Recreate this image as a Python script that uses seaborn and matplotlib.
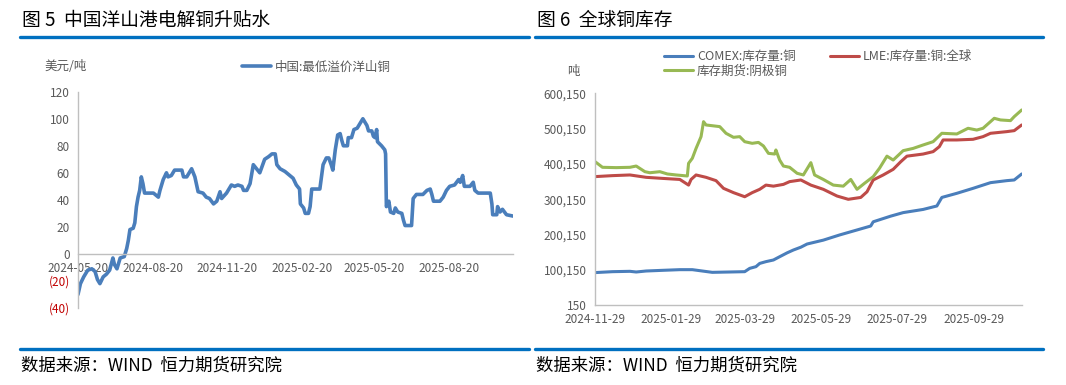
import pandas as pd
import numpy as np
import seaborn as sns
import matplotlib.pyplot as plt
import matplotlib.dates as mdates
from matplotlib.lines import Line2D
from matplotlib.ticker import FuncFormatter

sns.set_theme(style="white")
plt.rcParams['font.family'] = ['Noto Sans CJK SC', 'DejaVu Sans']
plt.rcParams['axes.unicode_minus'] = False

# 图5 中国洋山港电解铜升贴水 (美元/吨)
yangshan_dates = [
    "2024-05-20", "2024-05-23", "2024-05-27", "2024-06-01", "2024-06-06", "2024-06-10", "2024-06-13", "2024-06-16",
    "2024-06-20", "2024-06-24", "2024-06-28",
    "2024-07-02", "2024-07-04", "2024-07-07", "2024-07-11", "2024-07-16", "2024-07-19", "2024-07-21", "2024-07-23",
    "2024-07-27", "2024-07-29", "2024-07-31",
    "2024-08-02", "2024-08-04", "2024-08-06", "2024-08-08", "2024-08-10", "2024-08-21", "2024-08-27", "2024-08-29",
    "2024-09-02", "2024-09-06", "2024-09-08", "2024-09-12", "2024-09-16", "2024-09-25", "2024-09-27",
    "2024-10-01", "2024-10-07", "2024-10-11", "2024-10-15", "2024-10-21", "2024-10-25", "2024-10-29",
    "2024-11-03", "2024-11-07", "2024-11-11", "2024-11-13", "2024-11-19", "2024-11-25", "2024-11-29",
    "2024-12-03", "2024-12-08", "2024-12-10", "2024-12-14", "2024-12-18", "2024-12-22", "2024-12-26", "2024-12-30",
    "2025-01-05", "2025-01-10", "2025-01-14", "2025-01-18", "2025-01-20", "2025-01-24", "2025-01-30",
    "2025-02-05", "2025-02-09", "2025-02-13", "2025-02-17", "2025-02-18", "2025-02-22", "2025-02-24", "2025-02-28",
    "2025-03-02", "2025-03-04", "2025-03-14", "2025-03-16", "2025-03-18", "2025-03-22", "2025-03-25", "2025-03-28",
    "2025-03-30",
    "2025-04-02", "2025-04-05", "2025-04-08", "2025-04-10", "2025-04-12", "2025-04-17", "2025-04-18", "2025-04-22",
    "2025-04-25", "2025-04-29",
    "2025-05-03", "2025-05-06", "2025-05-09", "2025-05-11", "2025-05-13", "2025-05-17", "2025-05-19", "2025-05-21",
    "2025-05-23", "2025-05-24", "2025-05-29",
    "2025-06-02", "2025-06-03", "2025-06-04", "2025-06-07", "2025-06-09", "2025-06-13", "2025-06-15", "2025-06-18",
    "2025-06-23", "2025-06-25", "2025-06-27",
    "2025-07-05", "2025-07-07", "2025-07-11", "2025-07-19", "2025-07-24", "2025-07-28", "2025-07-30",
    "2025-08-01", "2025-08-09", "2025-08-13", "2025-08-17", "2025-08-21", "2025-08-27",
    "2025-09-01", "2025-09-03", "2025-09-06", "2025-09-08", "2025-09-15", "2025-09-19", "2025-09-21", "2025-09-25",
    "2025-10-10", "2025-10-12", "2025-10-13", "2025-10-18", "2025-10-19", "2025-10-22", "2025-10-25", "2025-10-30",
    "2025-11-07"]
yangshan_premium = [
    -30, -22, -17, -12, -11, -13, -19, -22, -17, -15, -12,
    -3, -8, -11, -3, -2, 4, 10, 18, 19, 23, 35,
    42, 47, 57, 52, 45, 45, 42, 47,
    55, 60, 57, 58, 62, 62, 57,
    57, 63, 57, 46, 45, 42, 41,
    37, 39, 46, 41, 45, 51, 50,
    51, 50, 47, 47, 52, 66, 63, 60,
    70, 72, 74, 74, 66, 63, 61,
    58, 56, 51, 48, 37, 34, 30, 30,
    35, 48, 48, 57, 66, 71, 71, 66, 62,
    77, 88, 89, 84, 80, 80, 86, 86, 92, 93,
    97, 100, 97, 95, 91, 91, 87, 86, 92, 83, 80,
    77, 74, 35, 39, 31, 30, 34, 31, 30, 25, 21,
    21, 41, 44, 44, 47, 48, 44,
    39, 39, 42, 47, 50, 51,
    55, 53, 58, 50, 50, 53, 47, 45,
    45, 37, 29, 29, 35, 31, 33, 29, 28]
left_xticks = ["2024-05-20", "2024-08-20", "2024-11-20", "2025-02-20", "2025-05-20", "2025-08-20"]
left_yticks = [-40, -20, 0, 20, 40, 60, 80, 100, 120]

# 图6 全球铜库存 (吨)
comex_dates = [
    "2024-11-29", "2024-12-13", "2024-12-27", "2025-01-01", "2025-01-09", "2025-01-22", "2025-02-05", "2025-02-15",
    "2025-02-23", "2025-03-03", "2025-03-17", "2025-03-29", "2025-04-02", "2025-04-07", "2025-04-10", "2025-04-15",
    "2025-04-21", "2025-04-26", "2025-05-02", "2025-05-07", "2025-05-13", "2025-05-18", "2025-05-31", "2025-06-13",
    "2025-06-27", "2025-07-08", "2025-07-10", "2025-07-24", "2025-08-03", "2025-08-19", "2025-08-30", "2025-09-03",
    "2025-09-15", "2025-09-28", "2025-10-12", "2025-10-25", "2025-10-31", "2025-11-06"]
comex_stock = [
    92000, 94600, 95600, 93700, 96500, 98400, 100300, 100300,
    96500, 92700, 93700, 94600, 104000, 108800, 118000, 123000,
    127700, 137000, 148000, 156000, 164000, 173000, 184000, 198600,
    212800, 224000, 236000, 252000, 262000, 271000, 280800, 305000,
    316700, 330800, 346900, 352600, 354500, 371500]

lme_dates = [
    "2024-11-29", "2024-12-13", "2024-12-27", "2025-01-09", "2025-01-22", "2025-02-05", "2025-02-12", "2025-02-14",
    "2025-02-18", "2025-02-26", "2025-03-06", "2025-03-12", "2025-03-20", "2025-03-29", "2025-04-04", "2025-04-10",
    "2025-04-15", "2025-04-21", "2025-04-29", "2025-05-04", "2025-05-13", "2025-05-21", "2025-05-31", "2025-06-11",
    "2025-06-20", "2025-06-30", "2025-07-05", "2025-07-10", "2025-07-18", "2025-07-26", "2025-08-01", "2025-08-06",
    "2025-08-19", "2025-08-27", "2025-09-01", "2025-09-04", "2025-09-15", "2025-09-28", "2025-10-06", "2025-10-12",
    "2025-10-25", "2025-10-31", "2025-11-06"]
lme_stock = [
    364000, 366800, 368700, 362000, 359000, 356000, 340000, 356000,
    368700, 362000, 352600, 330800, 318600, 307000, 318600, 328000,
    340000, 337000, 342000, 349800, 354500, 340000, 328000, 309000,
    299700, 305000, 321000, 354500, 368700, 384700, 406000, 422000,
    428000, 434800, 449000, 467900, 467900, 469800, 477300, 486800,
    491500, 494300, 510400]

cathode_dates = [
    "2024-11-29", "2024-12-05", "2024-12-16", "2024-12-27", "2025-01-01", "2025-01-08", "2025-01-12", "2025-01-20",
    "2025-01-26", "2025-02-02", "2025-02-11", "2025-02-12", "2025-02-15", "2025-02-18", "2025-02-22", "2025-02-24",
    "2025-02-26", "2025-03-09", "2025-03-14", "2025-03-20", "2025-03-25", "2025-03-29", "2025-04-04", "2025-04-09",
    "2025-04-13", "2025-04-17", "2025-04-22", "2025-04-23", "2025-04-26", "2025-04-29", "2025-05-04", "2025-05-10",
    "2025-05-15", "2025-05-21", "2025-05-24", "2025-05-31", "2025-06-08", "2025-06-16", "2025-06-22", "2025-06-27",
    "2025-07-03", "2025-07-10", "2025-07-15", "2025-07-21", "2025-07-26", "2025-08-03", "2025-08-11", "2025-08-19",
    "2025-08-27", "2025-09-03", "2025-09-15", "2025-09-24", "2025-10-01", "2025-10-06", "2025-10-15", "2025-10-20",
    "2025-10-28", "2025-10-31", "2025-11-06"]
cathode_stock = [
    406500, 390400, 389500, 390400, 394000, 378000, 375000, 378000,
    371500, 368700, 365800, 401700, 415900, 444000, 477300, 519800,
    510400, 505700, 486800, 475400, 477300, 463000, 458400, 461000,
    450900, 430000, 428000, 439500, 411000, 394000, 390400, 373400,
    368700, 403600, 368700, 356000, 340000, 337000, 356000, 328000,
    345000, 364000, 387600, 422000, 411000, 437600, 444000, 453700,
    463000, 486800, 484900, 501000, 496000, 501000, 529300, 524600,
    522700, 534000, 552900]
right_xticks = ["2024-11-29", "2025-01-29", "2025-03-29", "2025-05-29", "2025-07-29", "2025-09-29"]
right_yticks = [150, 100150, 200150, 300150, 400150, 500150, 600150]

series_names = ["COMEX:库存量:铜", "LME:库存量:铜:全球", "库存期货:阴极铜"]
series_colors = ["#4a7ebb", "#be4b48", "#98b954"]

grey = "#595959"
axis_grey = "#bfbfbf"
W, H = 1066, 385

fig = plt.figure(figsize=(W / 100, H / 100), dpi=100)

# ---------------- left panel ----------------
ax1 = fig.add_axes([78 / W, 1 - 308 / H, (513 - 78) / W, (308 - 91.7) / H])
left_df = pd.DataFrame({"date": pd.to_datetime(yangshan_dates), "premium": yangshan_premium,
                        "name": "中国:最低溢价洋山铜"})
sns.lineplot(data=left_df, x="date", y="premium", hue="name", palette=["#4a7ebb"],
             linewidth=2.6, ax=ax1, legend=True)
ax1.set_xlim(pd.Timestamp("2024-05-20"), pd.Timestamp(yangshan_dates[-1]))
ax1.set_ylim(-40, 120)
ax1.set_xticks(pd.to_datetime(left_xticks))
ax1.xaxis.set_major_formatter(mdates.DateFormatter("%Y-%m-%d"))
ylabels = [f"({abs(v)})" if v < 0 else str(v) for v in left_yticks]
ax1.set_yticks(left_yticks, labels=ylabels)
for lab, v in zip(ax1.get_yticklabels(), left_yticks):
    lab.set_color("#c00000" if v < 0 else grey)
ax1.spines["bottom"].set_position(("data", 0))
ax1.spines[["top", "right"]].set_visible(False)
for s in ["left", "bottom"]:
    ax1.spines[s].set_color(axis_grey)
    ax1.spines[s].set_linewidth(1)
ax1.tick_params(axis="both", which="both", direction="out", length=4, width=1, color=axis_grey,
                labelsize=8.5, pad=2)
ax1.tick_params(axis="x", labelcolor=grey)
ax1.set_xlabel("")
ax1.set_ylabel("")
h, l = ax1.get_legend_handles_labels()
ax1.legend(h, l, loc="center left", bbox_to_anchor=(236 / W, 1 - 67 / H), bbox_transform=fig.transFigure,
           frameon=False, fontsize=9, handlelength=2.3, handletextpad=0.3, borderpad=0, labelcolor=grey)
fig.text(66 / W, 1 - 66 / H, "美元/吨", fontsize=9, color=grey, ha="center", va="center")

# ---------------- right panel ----------------
ax2 = fig.add_axes([595 / W, 1 - 305 / H, (1021.7 - 595) / W, (305 - 93.3) / H])
right_df = pd.concat([
    pd.DataFrame({"date": pd.to_datetime(comex_dates), "stock": comex_stock, "name": series_names[0]}),
    pd.DataFrame({"date": pd.to_datetime(lme_dates), "stock": lme_stock, "name": series_names[1]}),
    pd.DataFrame({"date": pd.to_datetime(cathode_dates), "stock": cathode_stock, "name": series_names[2]}),
])
sns.lineplot(data=right_df, x="date", y="stock", hue="name", hue_order=series_names,
             palette=series_colors, linewidth=2.2, ax=ax2)
ax2.set_xlim(pd.Timestamp("2024-11-29"), pd.Timestamp("2025-11-06"))
ax2.set_ylim(150, 600150)
ax2.set_xticks(pd.to_datetime(right_xticks))
ax2.xaxis.set_major_formatter(mdates.DateFormatter("%Y-%m-%d"))
ax2.set_yticks(right_yticks)
ax2.yaxis.set_major_formatter(FuncFormatter(lambda v, p: f"{v:,.0f}"))
ax2.spines[["top", "right"]].set_visible(False)
for s in ["left", "bottom"]:
    ax2.spines[s].set_color(axis_grey)
    ax2.spines[s].set_linewidth(1)
ax2.tick_params(axis="both", direction="out", length=4, width=1, color=axis_grey,
                labelsize=8.5, labelcolor=grey, pad=2)
ax2.set_xlabel("")
ax2.set_ylabel("")
h, l = ax2.get_legend_handles_labels()
order = [0, 2, 1]
ax2.legend([h[i] for i in order], [l[i] for i in order], ncol=2, loc="upper left",
           bbox_to_anchor=(658 / W, 1 - 44 / H), bbox_transform=fig.transFigure, frameon=False,
           fontsize=9, handlelength=2.3, handletextpad=0.3, borderpad=0, labelspacing=0.1,
           columnspacing=2.8, labelcolor=grey)
fig.text(573 / W, 1 - 72 / H, "吨", fontsize=9, color=grey, ha="center", va="center")

# ---------------- titles, rules, source ----------------
blue_rule = "#0070c0"
for x0, x1, title in [(20, 529, "图 5  中国洋山港电解铜升贴水"), (535, 1043, "图 6  全球铜库存")]:
    fig.text((x0 + 2) / W, 1 - 20 / H, title, fontsize=13.5, color="black", va="center", ha="left")
    fig.add_artist(Line2D([x0 / W, x1 / W], [1 - 37 / H, 1 - 37 / H], color=blue_rule, lw=2.4))
    fig.add_artist(Line2D([x0 / W, x1 / W], [1 - 349 / H, 1 - 349 / H], color=blue_rule, lw=2.4))
    fig.text((x0 + 1) / W, 1 - 366 / H, "数据来源：WIND  恒力期货研究院", fontsize=12.5, color="black",
             va="center", ha="left")

fig.savefig("out.png", dpi=100)
